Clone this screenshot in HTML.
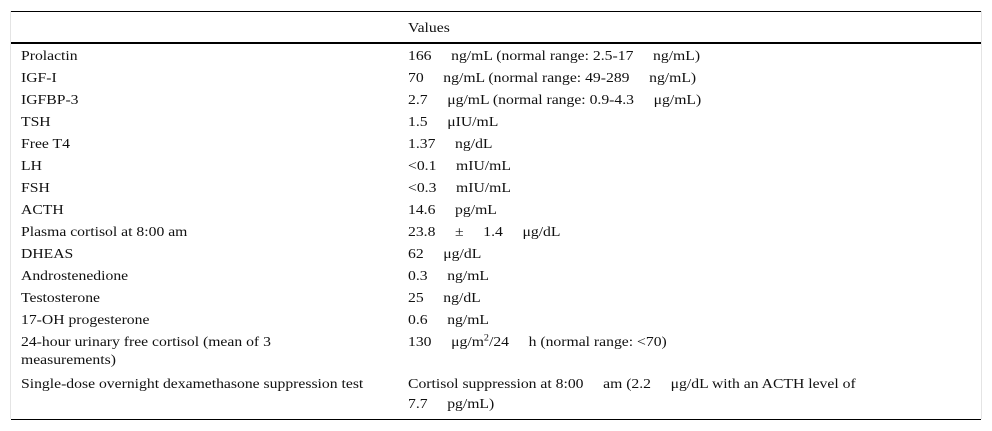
<!DOCTYPE html>
<html><head><meta charset="utf-8"><style>
body{margin:0;width:992px;height:431px;background:#fff;position:relative;overflow:hidden;font-family:"Liberation Serif",serif;font-size:14px;color:#111}
.r{position:absolute;left:0;width:992px;height:18px;line-height:18px;margin-top:2px}
.a{position:absolute;left:21px;white-space:nowrap;transform:scaleX(1.12);transform-origin:0 50%}
.b{position:absolute;left:408px;white-space:nowrap;transform:scaleX(1.12);transform-origin:0 50%}
.hl{position:absolute;left:11px;width:970px;background:#000}
.vl{position:absolute;top:11px;width:1px;height:408px;background:#e4e4e4}
sup{font-size:9px;line-height:0}
</style></head><body>
<div class="vl" style="left:10px"></div>
<div class="vl" style="left:981px"></div>
<div class="hl" style="top:11px;height:1px"></div>
<div class="hl" style="top:42px;height:2px"></div>
<div class="hl" style="top:419px;height:1px"></div>
<div class="r" style="top:18px"><span class="b">Values</span></div>
<div class="r" style="top:46px"><span class="a">Prolactin</span><span class="b">166&nbsp;&nbsp;&nbsp;&nbsp; ng/mL (normal range: 2.5-17&nbsp;&nbsp;&nbsp;&nbsp; ng/mL)</span></div>
<div class="r" style="top:68px"><span class="a">IGF-I</span><span class="b">70&nbsp;&nbsp;&nbsp;&nbsp; ng/mL (normal range: 49-289&nbsp;&nbsp;&nbsp;&nbsp; ng/mL)</span></div>
<div class="r" style="top:90px"><span class="a">IGFBP-3</span><span class="b">2.7&nbsp;&nbsp;&nbsp;&nbsp; μg/mL (normal range: 0.9-4.3&nbsp;&nbsp;&nbsp;&nbsp; μg/mL)</span></div>
<div class="r" style="top:112px"><span class="a">TSH</span><span class="b">1.5&nbsp;&nbsp;&nbsp;&nbsp; μIU/mL</span></div>
<div class="r" style="top:134px"><span class="a">Free T4</span><span class="b">1.37&nbsp;&nbsp;&nbsp;&nbsp; ng/dL</span></div>
<div class="r" style="top:156px"><span class="a">LH</span><span class="b">&lt;0.1&nbsp;&nbsp;&nbsp;&nbsp; mIU/mL</span></div>
<div class="r" style="top:178px"><span class="a">FSH</span><span class="b">&lt;0.3&nbsp;&nbsp;&nbsp;&nbsp; mIU/mL</span></div>
<div class="r" style="top:200px"><span class="a">ACTH</span><span class="b">14.6&nbsp;&nbsp;&nbsp;&nbsp; pg/mL</span></div>
<div class="r" style="top:222px"><span class="a">Plasma cortisol at 8:00 am</span><span class="b">23.8&nbsp;&nbsp;&nbsp;&nbsp; ±&nbsp;&nbsp;&nbsp;&nbsp; 1.4&nbsp;&nbsp;&nbsp;&nbsp; μg/dL</span></div>
<div class="r" style="top:244px"><span class="a">DHEAS</span><span class="b">62&nbsp;&nbsp;&nbsp;&nbsp; μg/dL</span></div>
<div class="r" style="top:266px"><span class="a">Androstenedione</span><span class="b">0.3&nbsp;&nbsp;&nbsp;&nbsp; ng/mL</span></div>
<div class="r" style="top:288px"><span class="a">Testosterone</span><span class="b">25&nbsp;&nbsp;&nbsp;&nbsp; ng/dL</span></div>
<div class="r" style="top:310px"><span class="a">17-OH progesterone</span><span class="b">0.6&nbsp;&nbsp;&nbsp;&nbsp; ng/mL</span></div>
<div class="r" style="top:332px"><span class="a">24-hour urinary free cortisol (mean of 3</span><span class="b">130&nbsp;&nbsp;&nbsp;&nbsp; μg/m<sup>2</sup>/24&nbsp;&nbsp;&nbsp;&nbsp; h (normal range: &lt;70)</span></div>
<div class="r" style="top:350px"><span class="a">measurements)</span></div>
<div class="r" style="top:374px"><span class="a">Single-dose overnight dexamethasone suppression test</span><span class="b">Cortisol suppression at 8:00&nbsp;&nbsp;&nbsp;&nbsp; am (2.2&nbsp;&nbsp;&nbsp;&nbsp; μg/dL with an ACTH level of</span></div>
<div class="r" style="top:394px"><span class="b">7.7&nbsp;&nbsp;&nbsp;&nbsp; pg/mL)</span></div>
</body></html>
